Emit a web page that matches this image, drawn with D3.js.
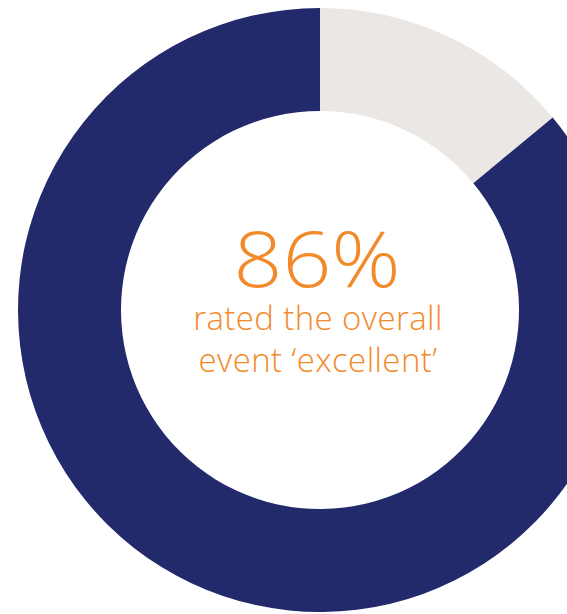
<!DOCTYPE html>
<html><head><meta charset="utf-8">
<script src="https://cdn.jsdelivr.net/npm/d3@7"></script>
<style>html,body{margin:0;padding:0;background:#fff;overflow:hidden}</style>
</head><body><svg id="c" width="567" height="614"></svg>
<script>
const categories = ["Other", "Excellent"];
const values = [14, 86];
const colors = ["#EBE7E4", "#232A6B"];
const headline = "86%";
const captionLines = ["rated the overall", "event \u2018excellent\u2019"];

const svg = d3.select("#c");
const cx = 320, cy = 310, outerR = 302, innerR = 199;
const g = svg.append("g").attr("transform", `translate(${cx},${cy})`);
const pie = d3.pie().sort(null).value(d => d.v);
const arc = d3.arc().innerRadius(innerR).outerRadius(outerR);
const data = categories.map((c, i) => ({c, v: values[i]}));
g.selectAll("path").data(pie(data)).enter().append("path")
  .attr("d", arc).attr("fill", (d, i) => colors[i]);

const orange = "#F38A2A";
g.append("text").text(headline)
  .attr("transform", "translate(-3,-23) scale(1.1,1)")
  .attr("text-anchor", "middle")
  .attr("font-family", "'Open Sans'").attr("font-weight", 300)
  .attr("font-size", 78).attr("fill", orange);
captionLines.forEach((t, i) => {
  g.append("text").text(t)
    .attr("x", -2).attr("y", 20 + i * 42)
    .attr("text-anchor", "middle")
    .attr("letter-spacing", 0.4)
    .attr("font-family", "'Open Sans'").attr("font-weight", 300)
    .attr("font-size", 33).attr("fill", orange);
});
</script></body></html>
